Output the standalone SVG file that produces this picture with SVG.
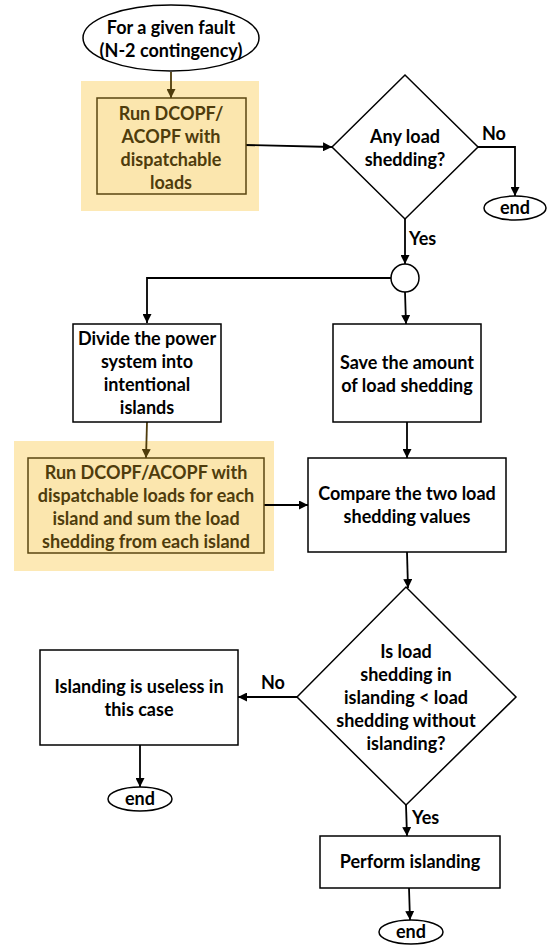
<svg xmlns="http://www.w3.org/2000/svg" width="550" height="945" viewBox="0 0 550 945">
<defs>
<style>
.n{fill:#fff;stroke:#000;stroke-width:1.5}
.hl{fill:#fde9b5;stroke:none}
.hb{fill:#fbe6ae;stroke:#5a4510;stroke-width:1.5}
text{font-family:Lato,"Open Sans","Liberation Sans",sans-serif;font-weight:bold;font-size:18px;text-anchor:middle;fill:#000}
.ht{fill:#4f3c0c}
.lb{text-anchor:start}
.c{fill:none;stroke:#000;stroke-width:1.8}
.cb{fill:none;stroke:#4f3c0c;stroke-width:1.8}
</style>
<marker id="a" viewBox="0 0 10 10" refX="10" refY="5" markerWidth="9" markerHeight="9" markerUnits="userSpaceOnUse" orient="auto"><path d="M0,0L10,5L0,10z" fill="#000"/></marker>
<marker id="ab" viewBox="0 0 10 10" refX="10" refY="5" markerWidth="9" markerHeight="9" markerUnits="userSpaceOnUse" orient="auto"><path d="M0,0L10,5L0,10z" fill="#4f3c0c"/></marker>
</defs>
<rect class="hl" x="81" y="81" width="178" height="130"/>
<rect class="hl" x="14" y="441" width="260" height="130"/>
<g id="connectors">
<path class="cb" d="M171,72V98" marker-end="url(#ab)"/>
<path class="c" d="M245,145L332,147" marker-end="url(#a)"/>
<path class="c" d="M478,147H515V196" marker-end="url(#a)"/>
<path class="c" d="M405,219V264" marker-end="url(#a)"/>
<path class="c" d="M391,278H147V323" marker-end="url(#a)"/>
<path class="c" d="M405,292L406,324" marker-end="url(#a)"/>
<path class="cb" d="M147,422L146,458" marker-end="url(#ab)"/>
<path class="c" d="M407,422V458" marker-end="url(#a)"/>
<path class="c" d="M264,505H308" marker-end="url(#a)"/>
<path class="c" d="M407,552L408,588" marker-end="url(#a)"/>
<path class="c" d="M297,697H238" marker-end="url(#a)"/>
<path class="c" d="M140,745V787" marker-end="url(#a)"/>
<path class="c" d="M406,805L407,836" marker-end="url(#a)"/>
<path class="c" d="M409,888L410,920" marker-end="url(#a)"/>
</g>
<g id="start"><ellipse class="n" cx="171" cy="38" rx="88" ry="33"/><text x="171" y="34">For a given fault</text><text x="171" y="57">(N-2 contingency)</text></g>
<g id="run1"><rect class="hb" x="97" y="98" width="149" height="96"/><text class="ht" x="171" y="120">Run DCOPF/</text><text class="ht" x="171" y="143">ACOPF with</text><text class="ht" x="171" y="166">dispatchable</text><text class="ht" x="171" y="189">loads</text></g>
<g id="d1"><path class="n" d="M332,147L405,75L478,147L405,219Z"/><text x="405" y="143">Any load</text><text x="405" y="166">shedding?</text></g>
<g id="end1"><ellipse class="n" cx="515" cy="208" rx="31" ry="12"/><text x="515" y="214">end</text></g>
<g id="junction"><circle class="n" cx="405" cy="278" r="14"/></g>
<g id="divide"><rect class="n" x="73" y="324" width="148" height="98"/><text x="147" y="345">Divide the power</text><text x="147" y="368">system into</text><text x="147" y="391">intentional</text><text x="147" y="414">islands</text></g>
<g id="save"><rect class="n" x="333" y="324" width="148" height="98"/><text x="407" y="369">Save the amount</text><text x="407" y="392">of load shedding</text></g>
<g id="run2"><rect class="hb" x="28" y="458" width="236" height="95"/><text class="ht" x="146" y="479">Run DCOPF/ACOPF with</text><text class="ht" x="146" y="502">dispatchable loads for each</text><text class="ht" x="146" y="525">island and sum the load</text><text class="ht" x="146" y="548">shedding from each island</text></g>
<g id="compare"><rect class="n" x="308" y="458" width="198" height="94"/><text x="407" y="500">Compare the two load</text><text x="407" y="523">shedding values</text></g>
<g id="d2"><path class="n" d="M297,697L406,587L516,697L406,805Z"/><text x="406" y="658">Is load</text><text x="406" y="681">shedding in</text><text x="406" y="704">islanding &lt; load</text><text x="406" y="727">shedding without</text><text x="406" y="750">islanding?</text></g>
<g id="useless"><rect class="n" x="40" y="650" width="198" height="95"/><text x="139" y="693">Islanding is useless in</text><text x="139" y="716">this case</text></g>
<g id="end2"><ellipse class="n" cx="140" cy="799" rx="32" ry="12"/><text x="140" y="805">end</text></g>
<g id="perform"><rect class="n" x="320" y="836" width="180" height="52"/><text x="410" y="868">Perform islanding</text></g>
<g id="end3"><ellipse class="n" cx="411" cy="932" rx="32" ry="12"/><text x="411" y="938">end</text></g>
<g id="labels"><text class="lb" x="482" y="140">No</text><text class="lb" x="409" y="245">Yes</text><text class="lb" x="261" y="689">No</text><text class="lb" x="412" y="824">Yes</text></g>
</svg>
